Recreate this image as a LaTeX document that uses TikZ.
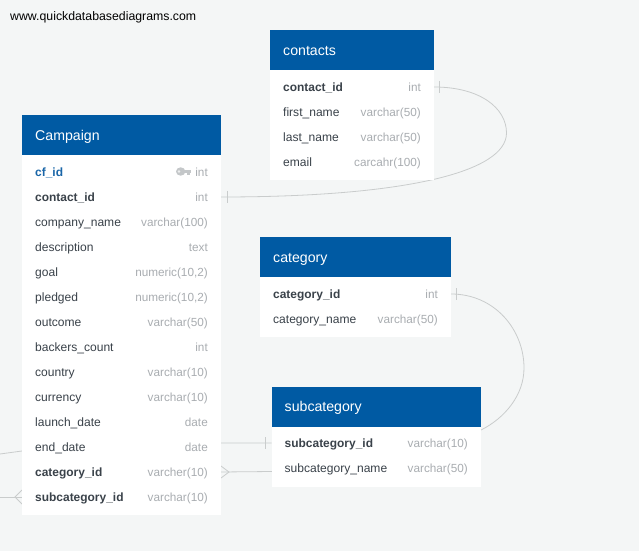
\documentclass[tikz,border=0pt]{standalone}
\usepackage{fontspec}
\setmainfont{Liberation Sans}
\pgfdeclarelayer{pagebg}
\pgfdeclarelayer{links}
\pgfsetlayers{pagebg,links,main}
\definecolor{pagecol}{HTML}{F4F6F6}
\definecolor{headcol}{HTML}{005AA3}
\definecolor{namecol}{HTML}{3A424A}
\definecolor{typecol}{HTML}{A9ADB1}
\definecolor{keycol}{HTML}{C4C7C9}
\definecolor{pkcol}{HTML}{1A66A8}
\definecolor{linkcol}{HTML}{C9CCCC}
\tikzset{
  x=1bp,y=-1bp,
  bodybox/.style={fill=white,draw=none,inner sep=0pt,outer sep=0pt,anchor=north west},
  headbox/.style={fill=headcol,draw=none,inner sep=0pt,outer sep=0pt,anchor=north west},
  rowname/.style={anchor=base west,inner sep=0pt,text=namecol,font=\fontsize{12.1}{12.1}\selectfont},
  keyname/.style={rowname,font=\fontsize{12}{12}\selectfont\bfseries},
  pkname/.style={keyname,text=pkcol},
  rowtype/.style={anchor=base east,inner sep=0pt,text=typecol,font=\fontsize{11.8}{11.8}\selectfont},
  headtext/.style={anchor=base west,inner sep=0pt,text=white,font=\fontsize{14.2}{14.2}\selectfont},
  link/.style={draw=linkcol,line width=0.8bp},
}
\newcommand{\tablebox}[7]{% id, x, y, w, bodyheight, title, title baseline
  \node[bodybox,minimum width=#4bp,minimum height=#5bp] (#1body) at (#2,#3+40) {};
  \node[headbox,minimum width=#4bp,minimum height=40bp] (#1head) at (#2,#3) {};
  \node[headtext] (#1title) at (#2+13,#7) {#6};
}
\newcommand{\rowat}[6]{% id, style, xl, xr, ycentre, name
  \node[#2] (#1) at (#3,#5+4.4) {#6};
}
\newcommand{\typeat}[4]{\node[rowtype] (#1) at (#2,#3+4.4) {#4};}
\begin{document}
\begin{tikzpicture}
\useasboundingbox (0,0) rectangle (639,551);
\begin{pgfonlayer}{pagebg}
\fill[pagecol] (0,0) rectangle (639,551);
\end{pgfonlayer}

\node[anchor=base west,inner sep=0pt,text=black,font=\fontsize{12.35}{12.35}\selectfont] (site) at (10,20.5) {www.quickdatabasediagrams.com};

% contacts
\tablebox{con}{270}{30}{164}{110}{contacts}{55.5}
\rowat{con1}{keyname}{283}{421}{87}{contact\_id}\typeat{con1t}{421}{87}{int}
\rowat{con2}{rowname}{283}{421}{112}{first\_name}\typeat{con2t}{421}{112}{varchar(50)}
\rowat{con3}{rowname}{283}{421}{137}{last\_name}\typeat{con3t}{421}{137}{varchar(50)}
\rowat{con4}{rowname}{283}{421}{162}{email}\typeat{con4t}{421}{162}{carcahr(100)}

% Campaign
\tablebox{cam}{22}{115}{199}{360}{Campaign}{140.5}
\rowat{cam1}{pkname}{35}{208}{172}{cf\_id}\typeat{cam1t}{208}{172}{int}
\rowat{cam2}{keyname}{35}{208}{197}{contact\_id}\typeat{cam2t}{208}{197}{int}
\rowat{cam3}{rowname}{35}{208}{222}{company\_name}\typeat{cam3t}{208}{222}{varchar(100)}
\rowat{cam4}{rowname}{35}{208}{247}{description}\typeat{cam4t}{208}{247}{text}
\rowat{cam5}{rowname}{35}{208}{272}{goal}\typeat{cam5t}{208}{272}{numeric(10,2)}
\rowat{cam6}{rowname}{35}{208}{297}{pledged}\typeat{cam6t}{208}{297}{numeric(10,2)}
\rowat{cam7}{rowname}{35}{208}{322}{outcome}\typeat{cam7t}{208}{322}{varchar(50)}
\rowat{cam8}{rowname}{35}{208}{347}{backers\_count}\typeat{cam8t}{208}{347}{int}
\rowat{cam9}{rowname}{35}{208}{372}{country}\typeat{cam9t}{208}{372}{varchar(10)}
\rowat{cam10}{rowname}{35}{208}{397}{currency}\typeat{cam10t}{208}{397}{varchar(10)}
\rowat{cam11}{rowname}{35}{208}{422}{launch\_date}\typeat{cam11t}{208}{422}{date}
\rowat{cam12}{rowname}{35}{208}{447}{end\_date}\typeat{cam12t}{208}{447}{date}
\rowat{cam13}{keyname}{35}{208}{472}{category\_id}\typeat{cam13t}{208}{472}{varcher(10)}
\rowat{cam14}{keyname}{35}{208}{497}{subcategory\_id}\typeat{cam14t}{208}{497}{varchar(10)}
% key icon
\fill[keycol] (180.7,171.5) ellipse (4.7bp and 4.2bp);
\fill[keycol] (183,169.7) rectangle (191,172.8);
\fill[keycol] (186.5,172) rectangle (190,174.6);
\fill[white!70!keycol] (179,171.5) circle (1.3bp);

% category
\tablebox{cat}{260}{237}{191}{60}{category}{262.5}
\rowat{cat1}{keyname}{273}{438}{294}{category\_id}\typeat{cat1t}{438}{294}{int}
\rowat{cat2}{rowname}{273}{438}{319}{category\_name}\typeat{cat2t}{438}{319}{varchar(50)}

% subcategory
\tablebox{sub}{271.5}{386.5}{209.5}{60}{subcategory}{411.5}
\rowat{sub1}{keyname}{284.5}{468}{443}{subcategory\_id}\typeat{sub1t}{468}{443}{varchar(10)}
\rowat{sub2}{rowname}{284.5}{468}{468}{subcategory\_name}\typeat{sub2t}{468}{468}{varchar(50)}

% connector ends on table edges
\coordinate (conK) at (434,87);
\coordinate (camC) at (221,197);
\coordinate (catK) at (451,294);
\coordinate (camCat) at (221,472);
\coordinate (subK) at (271.5,443);
\coordinate (camSubIn) at (22,497);
\coordinate (offA) at (0,454);
\coordinate (offB) at (0,497);

\begin{pgfonlayer}{links}
\draw[link] (conK) .. controls (480,87) and (506.5,108) .. (506.5,133)
  .. controls (506.5,172) and (405,197) .. (camC);
\draw[link] (439.5,81) -- (439.5,93);
\draw[link] (227,191) -- (227,203);

\draw[link] (catK) .. controls (495,294) and (524,330) .. (524,368)
  .. controls (524,395) and (505,418) .. (481,430)
  .. controls (440,451) and (330,471) .. (272,471.5) -- (camCat);
\draw[link] (456,288) -- (456,300);
\draw[link] (221,466) -- (229,472) -- (221,478);

\draw[link] (subK) -- (221,443) -- (22,451) -- (offA);
\draw[link] (265.5,437) -- (265.5,449);

\draw[link] (offB) -- (camSubIn);
\draw[link] (22,490) -- (15,497) -- (22,504);
\end{pgfonlayer}
\end{tikzpicture}
\end{document}
